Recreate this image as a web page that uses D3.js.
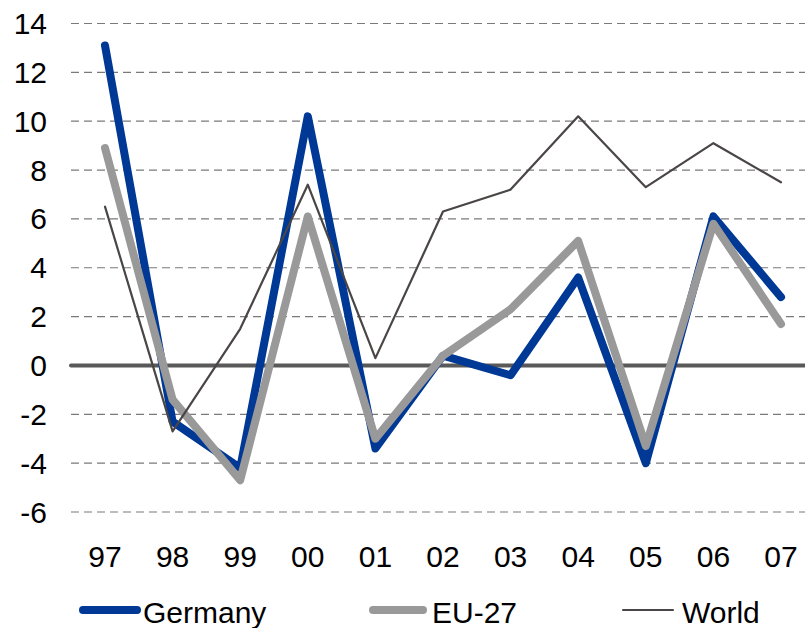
<!DOCTYPE html>
<meta charset="utf-8">
<script src="https://d3js.org/d3.v7.min.js"></script>
<style>
  body { margin: 0; background: #fff; }
  text { font-family: "Liberation Sans", Arial, sans-serif; fill: #000; }
</style>
<div id="chart"></div>
<script>
// data
var years = ["97", "98", "99", "00", "01", "02", "03", "04", "05", "06", "07"];
var germany = [13.1, -2.3, -4.2, 10.2, -3.4, 0.4, -0.4, 3.6, -4.0, 6.1, 2.8];
var eu27 = [8.9, -1.4, -4.7, 6.1, -3.0, 0.4, 2.3, 5.1, -3.3, 5.8, 1.7];
var world = [6.5, -2.7, 1.5, 7.4, 0.3, 6.3, 7.2, 10.2, 7.3, 9.1, 7.5];
var yTicks = [-6, -4, -2, 0, 2, 4, 6, 8, 10, 12, 14];

var W = 805, H = 628;

var svg = d3.select("#chart").append("svg")
    .attr("width", W)
    .attr("height", H);

var x = d3.scalePoint()
    .domain(years)
    .range([105, 781]);

var y = d3.scaleLinear()
    .domain([-6, 14])
    .range([512, 23.5]);

// dashed gridlines
svg.append("g")
  .selectAll("line")
  .data(yTicks.filter(function(d) { return d !== 0; }))
  .enter().append("line")
    .attr("x1", 71)
    .attr("x2", W)
    .attr("y1", function(d) { return y(d); })
    .attr("y2", function(d) { return y(d); })
    .attr("stroke", "#7a7a7a")
    .attr("stroke-width", 1.2)
    .attr("stroke-dasharray", "8,5");

// y labels
svg.append("g")
  .selectAll("text")
  .data(yTicks)
  .enter().append("text")
    .attr("x", 47)
    .attr("y", function(d) { return y(d) + 10.5; })
    .attr("text-anchor", "end")
    .style("font-size", "30px")
    .text(function(d) { return d; });

// zero line
svg.append("line")
    .attr("x1", 71)
    .attr("x2", W)
    .attr("y1", y(0))
    .attr("y2", y(0))
    .attr("stroke", "#595959")
    .attr("stroke-width", 4)
    .attr("stroke-linecap", "round");

// x labels
svg.append("g")
  .selectAll("text")
  .data(years)
  .enter().append("text")
    .attr("x", function(d) { return x(d); })
    .attr("y", 567)
    .attr("text-anchor", "middle")
    .style("font-size", "30px")
    .text(function(d) { return d; });

var series = [
  {name: "Germany", values: germany, color: "#003896", width: 8},
  {name: "EU-27", values: eu27, color: "#999999", width: 8},
  {name: "World", values: world, color: "#4a4645", width: 2.2}
];

var line = d3.line()
    .x(function(d, i) { return x(years[i]); })
    .y(function(d) { return y(d); });

series.forEach(function(s) {
  svg.append("path")
      .datum(s.values)
      .attr("d", line)
      .attr("fill", "none")
      .attr("stroke", s.color)
      .attr("stroke-width", s.width)
      .attr("stroke-linejoin", "round")
      .attr("stroke-linecap", "round");
});

// legend
var legendX = [[83, 137, 143], [373, 423, 432], [623, 673, 682]];
var legendY = 610;
series.forEach(function(s, i) {
  svg.append("line")
      .attr("x1", legendX[i][0])
      .attr("x2", legendX[i][1])
      .attr("y1", legendY)
      .attr("y2", legendY)
      .attr("stroke", s.color)
      .attr("stroke-width", s.width)
      .attr("stroke-linecap", "round");
  svg.append("text")
      .attr("x", legendX[i][2])
      .attr("y", 623)
      .style("font-size", "30px")
      .text(s.name);
});
</script>
